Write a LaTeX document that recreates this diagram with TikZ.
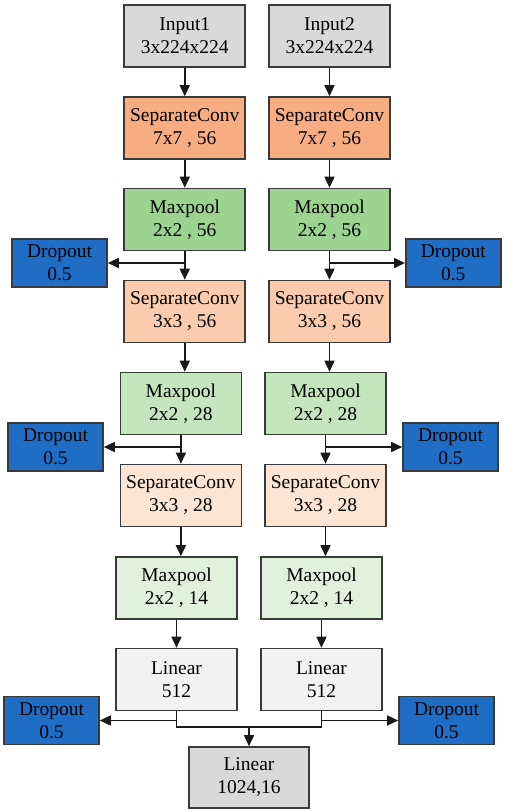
\documentclass[tikz,border=0pt]{standalone}
\usepackage{fontspec}
\setmainfont{Liberation Serif}
\usetikzlibrary{arrows.meta}
\definecolor{cgray}{HTML}{D9D9D9}
\definecolor{corange}{HTML}{F8AC82}
\definecolor{cgreenA}{HTML}{9CD390}
\definecolor{corangeB}{HTML}{FBCBAE}
\definecolor{cgreenB}{HTML}{C5E5BD}
\definecolor{corangeC}{HTML}{FDE5D5}
\definecolor{cgreenC}{HTML}{E1F2DC}
\definecolor{clight}{HTML}{F2F2F2}
\definecolor{cblue}{HTML}{1F6DC4}
\definecolor{cborder}{HTML}{3A3A3A}
\tikzset{
  x=1pt,y=1pt,
  layer/.style={draw=cborder,line width=1.6pt,minimum width=121pt,minimum height=62pt,
    inner sep=0pt,align=center,font=\fontsize{19.5}{23}\selectfont},
  dropbox/.style={layer,fill=cblue,minimum width=95pt,minimum height=48pt},
  arr/.style={draw=black!90,line width=1.6pt,-{Triangle[length=11pt,width=10pt]}},
  ln/.style={draw=black!90,line width=1.6pt}
}
\begin{document}
\begin{tikzpicture}
\useasboundingbox (0,0) rectangle (505,-812);
% left column
\node[layer,fill=cgray] (in1) at (184.75,-36) {Input1\\3x224x224};
\node[layer,fill=corange] (sc1) at (184.75,-128) {SeparateConv\\7x7 , 56};
\node[layer,fill=cgreenA] (mp1) at (184.75,-219.5) {Maxpool\\2x2 , 56};
\node[layer,fill=corangeB] (sc2) at (184.75,-311.5) {SeparateConv\\3x3 , 56};
\node[layer,fill=cgreenB] (mp2) at (180.9,-403.5) {Maxpool\\2x2 , 28};
\node[layer,fill=corangeC] (sc3) at (180.9,-495.5) {SeparateConv\\3x3 , 28};
\node[layer,fill=cgreenC] (mp3) at (176.5,-588) {Maxpool\\2x2 , 14};
\node[layer,fill=clight] (li) at (176.5,-679.5) {Linear\\512};
% right column
\node[layer,fill=cgray] (in2) at (329.5,-36) {Input2\\3x224x224};
\node[layer,fill=corange] (sc1r) at (329.5,-128) {SeparateConv\\7x7 , 56};
\node[layer,fill=cgreenA] (mp1r) at (329.5,-219.5) {Maxpool\\2x2 , 56};
\node[layer,fill=corangeB] (sc2r) at (329.5,-311.5) {SeparateConv\\3x3 , 56};
\node[layer,fill=cgreenB] (mp2r) at (325.5,-403.5) {Maxpool\\2x2 , 28};
\node[layer,fill=corangeC] (sc3r) at (325.5,-495.5) {SeparateConv\\3x3 , 28};
\node[layer,fill=cgreenC] (mp3r) at (321.5,-588) {Maxpool\\2x2 , 14};
\node[layer,fill=clight] (lir) at (321.5,-679.5) {Linear\\512};
% dropouts
\node[dropbox] (d1l) at (59.5,-263) {Dropout\\0.5};
\node[dropbox] (d1r) at (453.3,-263) {Dropout\\0.5};
\node[dropbox] (d2l) at (55.5,-447) {Dropout\\0.5};
\node[dropbox] (d2r) at (450.5,-447) {Dropout\\0.5};
\node[dropbox] (d3l) at (51.5,-720.5) {Dropout\\0.5};
\node[dropbox] (d3r) at (446.5,-720.5) {Dropout\\0.5};
% final
\node[layer,fill=cgray,minimum width=120pt,minimum height=61pt] (fin) at (249,-777.5) {Linear\\1024,16};
\coordinate (jl) at (176.5,-727);
\coordinate (jr) at (321.5,-727);
\coordinate (jc) at (249,-727);
% left connectors
\draw[arr] (in1) -- (sc1);
\draw[arr] (sc1) -- (mp1);
\draw[arr] (mp1) -- (sc2);
\draw[arr] (mp1.south |- d1l.east) -- (d1l.east);
\draw[arr] (sc2.south) -- (sc2.south |- mp2.north);
\draw[arr] (mp2) -- (sc3);
\draw[arr] (mp2.south |- d2l.east) -- (d2l.east);
\draw[arr] (sc3.south) -- (sc3.south |- mp3.north);
\draw[arr] (mp3) -- (li);
% right connectors
\draw[arr] (in2) -- (sc1r);
\draw[arr] (sc1r) -- (mp1r);
\draw[arr] (mp1r) -- (sc2r);
\draw[arr] (mp1r.south |- d1r.west) -- (d1r.west);
\draw[arr] (sc2r.south) -- (sc2r.south |- mp2r.north);
\draw[arr] (mp2r) -- (sc3r);
\draw[arr] (mp2r.south |- d2r.west) -- (d2r.west);
\draw[arr] (sc3r.south) -- (sc3r.south |- mp3r.north);
\draw[arr] (mp3r) -- (lir);
% merge
\draw[ln] (li.south) -- (jl) -- (jr) -- (lir.south);
\draw[arr] (li.south |- d3l.east) -- (d3l.east);
\draw[arr] (lir.south |- d3r.west) -- (d3r.west);
\draw[arr] (jc) -- (fin.north);
\end{tikzpicture}
\end{document}
